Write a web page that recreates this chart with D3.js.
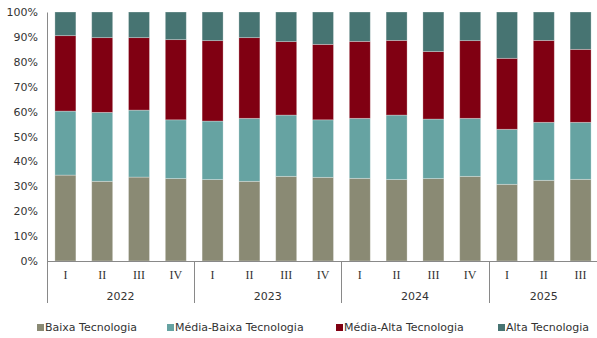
<!DOCTYPE html>
<html>
<head>
<meta charset="utf-8">
<script src="https://cdn.jsdelivr.net/npm/d3@7"></script>
<style>
  html, body { margin: 0; padding: 0; background: #fff; }
  svg { display: block; }
</style>
</head>
<body>
<svg id="chart" width="597" height="338"></svg>
<script>
// Quarter / year categories
const years = ["2022", "2023", "2024", "2025"];
const quarters = ["I", "II", "III", "IV", "I", "II", "III", "IV", "I", "II", "III", "IV", "I", "II", "III"];
const quarterYear = ["2022", "2022", "2022", "2022", "2023", "2023", "2023", "2023", "2024", "2024", "2024", "2024", "2025", "2025", "2025"];

// Share of each technology level (%), per quarter
const baixa      = [34.5, 32.0, 33.7, 33.1, 32.7, 32.0, 34.0, 33.6, 33.2, 32.7, 33.1, 34.0, 30.8, 32.4, 32.8];
const mediaBaixa = [25.7, 27.7, 26.9, 23.6, 23.5, 25.3, 24.6, 23.1, 24.1, 25.9, 23.9, 23.3, 22.1, 23.3, 22.9];
const mediaAlta  = [30.3, 30.0, 29.1, 32.2, 32.3, 32.4, 29.5, 30.3, 30.9, 30.0, 27.1, 31.2, 28.5, 32.9, 29.3];
const alta       = [9.5, 10.3, 10.3, 11.1, 11.5, 10.3, 11.9, 13.0, 11.8, 11.4, 15.9, 11.5, 18.6, 11.4, 15.0];

const seriesNames = ["Baixa Tecnologia", "Média-Baixa Tecnologia", "Média-Alta Tecnologia", "Alta Tecnologia"];
const seriesColors = ["#8a8a74", "#66a3a2", "#800012", "#477472"];
const yTicks = [0, 10, 20, 30, 40, 50, 60, 70, 80, 90, 100];

const rows = quarters.map((q, i) => ({
  key: i,
  [seriesNames[0]]: baixa[i],
  [seriesNames[1]]: mediaBaixa[i],
  [seriesNames[2]]: mediaAlta[i],
  [seriesNames[3]]: alta[i]
}));

const svg = d3.select("#chart");
const plotLeft = 47, plotRight = 599, plotTop = 12, plotBottom = 261;

const x = d3.scaleBand().domain(d3.range(quarters.length)).range([plotLeft, plotRight]).paddingInner(0.43).paddingOuter(0.215);
const y = d3.scaleLinear().domain([0, 100]).range([plotBottom, plotTop]);
const color = d3.scaleOrdinal().domain(seriesNames).range(seriesColors);

const stacked = d3.stack().keys(seriesNames)(rows);

// Bars
svg.append("g").selectAll("g").data(stacked).join("g")
  .attr("fill", d => color(d.key))
  .selectAll("rect").data(d => d).join("rect")
  .attr("x", d => x(d.data.key))
  .attr("width", x.bandwidth())
  .attr("y", d => y(d[1]))
  .attr("height", d => y(d[0]) - y(d[1]))
  .attr("stroke", "rgba(255,255,255,0.35)")
  .attr("stroke-width", 0.8);

// Y axis
const yAxis = svg.append("g").attr("transform", `translate(${plotLeft},0)`)
  .call(d3.axisLeft(y).tickValues(yTicks).tickFormat(d => d + "%").tickSize(0).tickPadding(9));
yAxis.select(".domain").attr("stroke", "#898989").attr("stroke-width", 1);
yAxis.selectAll("text").attr("font-family", "DejaVu Sans, Verdana, sans-serif").attr("font-size", 11).attr("fill", "#333");

// X baseline
svg.append("line").attr("x1", plotLeft).attr("x2", plotRight).attr("y1", plotBottom + 0.5).attr("y2", plotBottom + 0.5)
  .attr("stroke", "#898989");

// Year separators
const step = x.step();
const sepIdx = [0, 4, 8, 12];
svg.append("g").selectAll("line").data(sepIdx).join("line")
  .attr("x1", i => Math.round(plotLeft + i * step) + 0.5)
  .attr("x2", i => Math.round(plotLeft + i * step) + 0.5)
  .attr("y1", plotBottom)
  .attr("y2", 303)
  .attr("stroke", "#898989");

// Quarter labels
svg.append("g").selectAll("text").data(quarters).join("text")
  .attr("x", (q, i) => x(i) + x.bandwidth() / 2)
  .attr("y", 279)
  .attr("text-anchor", "middle")
  .attr("font-family", "Liberation Serif, Times New Roman, serif")
  .attr("font-size", 12)
  .attr("fill", "#333")
  .text(d => d);

// Year labels
svg.append("g").selectAll("text").data(years).join("text")
  .attr("x", yr => {
    const idx = quarterYear.map((v, i) => v === yr ? i : -1).filter(i => i >= 0);
    const a = plotLeft + idx[0] * step;
    const b = yr === "2025" ? plotRight : plotLeft + (idx[idx.length - 1] + 1) * step;
    return (a + b) / 2;
  })
  .attr("y", 300)
  .attr("text-anchor", "middle")
  .attr("font-family", "DejaVu Sans, Verdana, sans-serif")
  .attr("font-size", 11)
  .attr("fill", "#333")
  .text(d => d);

// Legend
const legendX = [37, 167, 336, 498];
const legend = svg.append("g").selectAll("g").data(seriesNames).join("g")
  .attr("transform", (d, i) => `translate(${legendX[i]},327)`);
legend.append("rect").attr("x", 0).attr("y", -3).attr("width", 7).attr("height", 7)
  .attr("fill", d => color(d));
legend.append("text").attr("x", 8).attr("y", 4)
  .attr("font-family", "DejaVu Sans, Verdana, sans-serif")
  .attr("font-size", 11)
  .attr("fill", "#333")
  .text(d => d);
</script>
</body>
</html>
